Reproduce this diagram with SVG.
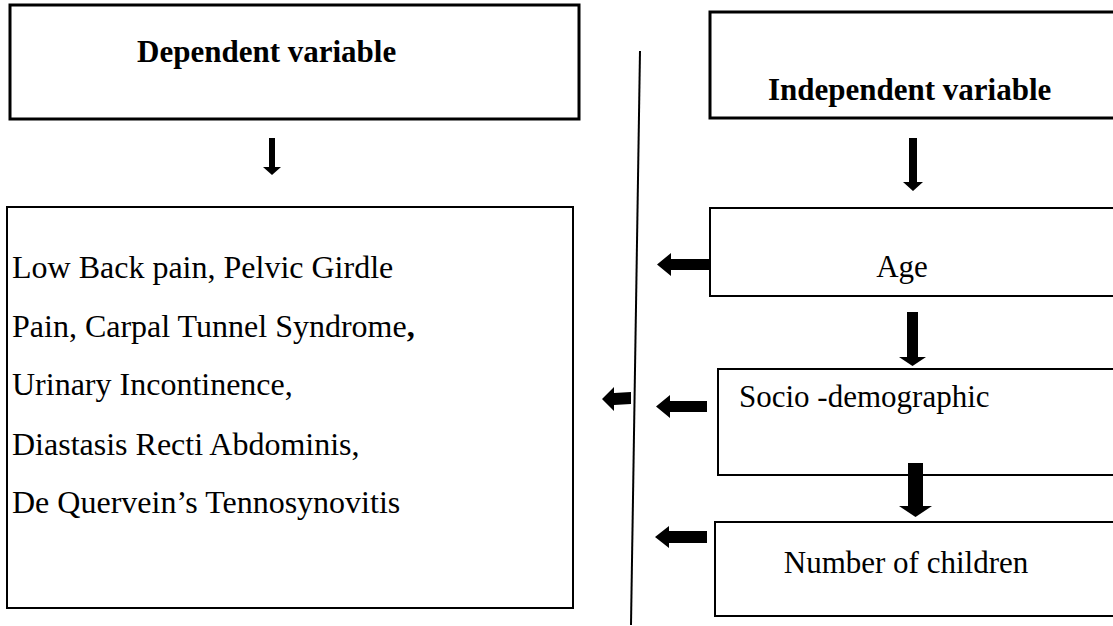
<svg xmlns="http://www.w3.org/2000/svg" width="1113" height="626" viewBox="0 0 1113 626">
<style>
.box{fill:#fff;stroke:#000;stroke-width:2}
.thick{stroke-width:3}
.hd{font-family:"Liberation Serif","Times New Roman",serif;font-weight:bold;font-size:31px;fill:#000}
.tx{font-family:"Liberation Serif","Times New Roman",serif;font-size:31px;fill:#000}
.big{font-size:32px}
.arr{fill:#000;stroke:none}
</style>
<rect width="1113" height="626" fill="#fff"/>
<g id="dependent">
<rect class="box thick" x="10" y="5" width="569" height="114"/>
<text class="hd" x="137" y="62">Dependent variable</text>
</g>
<g id="outcomes">
<rect class="box" x="7" y="207" width="566" height="401"/>
<text class="tx big" x="12" y="278">Low Back pain, Pelvic Girdle</text>
<text class="tx big" x="12" y="337">Pain, Carpal Tunnel Syndrome<tspan font-weight="bold">,</tspan></text>
<text class="tx big" x="12" y="395">Urinary Incontinence,</text>
<text class="tx big" x="12" y="455">Diastasis Recti Abdominis,</text>
<text class="tx big" x="12" y="513">De Quervein’s Tennosynovitis</text>
</g>
<g id="independent">
<rect class="box thick" x="710" y="12" width="410" height="106"/>
<text class="hd" x="768" y="100">Independent variable</text>
</g>
<g id="age">
<rect class="box" x="710" y="208" width="410" height="88"/>
<text class="tx" x="902" y="277" text-anchor="middle">Age</text>
</g>
<g id="socio">
<rect class="box" x="718" y="369" width="402" height="106"/>
<text class="tx" x="739" y="407" font-size="29">Socio -demographic</text>
</g>
<g id="children">
<rect class="box" x="715" y="522" width="405" height="94"/>
<text class="tx" x="906" y="573" text-anchor="middle">Number of children</text>
</g>
<g id="connectors">
<line x1="640" y1="51" x2="631" y2="625" stroke="#000" stroke-width="2"/>
<polygon class="arr" points="269,138 275,138 275,167 281,167 272,175 263,167 269,167"/>
<polygon class="arr" points="909,138 917,138 917,182 923,182 913,191 903,182 909,182"/>
<polygon class="arr" points="907,312 918,312 918,357 926,357 912.5,366 899,357 907,357"/>
<polygon class="arr" points="908,463 923,463 923,506 932,506 915.5,517 899,506 908,506"/>
<polygon class="arr" points="710,259 710,270 671,270 671,276 657,264.5 671,253 671,259"/>
<polygon class="arr" points="707,401 707,412 670,412 670,418 656,406.5 670,395 670,401"/>
<polygon class="arr" points="707,531 707,543 669,543 669,548 655,537 669,526 669,531"/>
<polygon class="arr" points="631,392 631,404 614,405 614,411 602,399 614,387 614,393"/>
</g>
</svg>
